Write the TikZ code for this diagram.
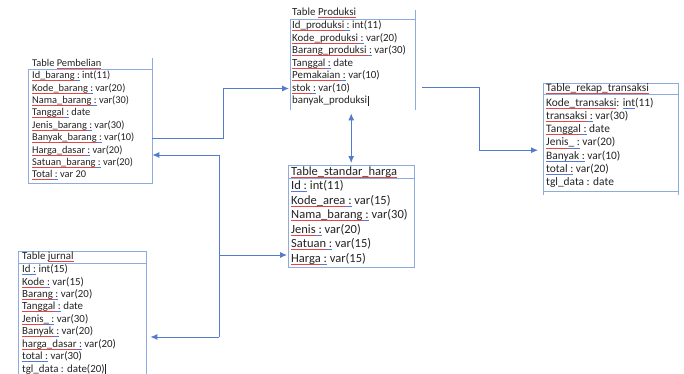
\documentclass[tikz,border=0pt]{standalone}
\usepackage{fontspec}
\setmainfont{Carlito}
\usetikzlibrary{arrows.meta,calc}
\definecolor{boxblue}{RGB}{143,170,220}
\definecolor{connblue}{RGB}{84,124,204}
\definecolor{spellred}{RGB}{228,70,70}
\definecolor{spellblue}{RGB}{90,120,215}
\definecolor{txt}{RGB}{35,35,35}
\newsavebox\ulbox
\newcommand\ulc[2]{\leavevmode\sbox\ulbox{#2}\rlap{\textcolor{#1}{\rule[-2.3pt]{\wd\ulbox}{0.7pt}}}\usebox\ulbox}
\newcommand\rw[1]{\ulc{spellred}{#1}}
\newcommand\bw[1]{\ulc{spellblue}{#1}}
\newcommand\cursorbar{\hspace{0.6pt}\rule[-2.2pt]{0.7pt}{10pt}}
\tikzset{
  border/.style={draw=boxblue, line width=0.8pt},
  conn/.style={draw=connblue, line width=0.9pt},
  tipstyle/.style={-{Latex[length=7pt,width=6pt]}},
  arr/.style={conn, tipstyle},
  frame/.style={anchor=north west, inner sep=0pt, minimum width=#1},
  txtA/.style={anchor=west, inner sep=0pt, text=txt, font=\fontsize{10.4}{12}\selectfont},
  txtB/.style={anchor=west, inner sep=0pt, text=txt, font=\fontsize{10.9}{12}\selectfont},
  txtC/.style={anchor=west, inner sep=0pt, text=txt, font=\fontsize{12.5}{14}\selectfont},
  txtD/.style={anchor=west, inner sep=0pt, text=txt, font=\fontsize{11.4}{13}\selectfont},
}
\begin{document}
\begin{tikzpicture}[x=1pt,y=-1pt]
\useasboundingbox[fill=white] (0,0) rectangle (684,374);

% ---------- frames ----------
\node[frame=124pt, minimum height=114pt] (pembbox) at (28,69) {};
\node[frame=125pt, minimum height=91pt] (prodbox) at (290,19) {};
\node[frame=126pt, minimum height=13pt] (hargat) at (288,165) {};
\node[frame=126pt, minimum height=89pt] (hargabox) at (288,178) {};
\node[frame=135pt, minimum height=11pt] (rekapt) at (543,83) {};
\node[frame=135pt, minimum height=97pt] (rekapbox) at (543,94) {};
\node[frame=128pt, minimum height=12pt] (jurnt) at (18,251) {};
\node[frame=128pt, minimum height=120pt] (jurnbox) at (18,263) {};

\draw[border] (pembbox.north west) rectangle (pembbox.south east);
\draw[border] (pembbox.north east) -- ++(0,-11);
\draw[border] (prodbox.south west) -- (prodbox.north west) -- (prodbox.north east) -- (prodbox.south east);
\draw[border] (prodbox.north east) -- ++(0,-9);
\draw[border] (hargat.north west) rectangle (hargat.south east);
\draw[border] (hargabox.north west) rectangle (hargabox.south east);
\draw[border] (rekapt.north west) rectangle (rekapt.south east);
\draw[border] (rekapbox.north west) rectangle (rekapbox.south east);
\draw[border] (rekapbox.south west) -- ++(0,4);
\draw[border] (rekapbox.south east) -- ++(0,4);
\draw[border] (jurnt.north west) rectangle (jurnt.south east);
\draw[border] (jurnbox.south west) -- (jurnbox.north west) -- (jurnbox.north east) -- (jurnbox.south east);

% ---------- titles ----------
\node[txtA] (pembtitle) at (32,64) {Table \rw{Pembelian}};
\node[txtB] (prodtitle) at (292,13) {Table \rw{Produksi}};
\node[txtC] (hargatitle) at (291,172) {\rw{Table\_standar\_harga}};
\node[txtD] (rekaptitle) at (546,89) {\rw{Table\_rekap\_transaksi}};
\node[txtB] (jurntitle) at (22,257) {Table \rw{jurnal}};

% ---------- rows ----------
\foreach \t [count=\i] in {
  {\rw{Id\_barang}\bw{ :} int(11)},
  {\rw{Kode\_barang}\bw{ :} var(20)},
  {\rw{Nama\_barang}\bw{ :} var(30)},
  {\rw{Tanggal}\bw{ :} date},
  {\rw{Jenis\_barang}\bw{ :} var(30)},
  {\rw{Banyak\_barang}\bw{ :} var(10)},
  {\rw{Harga\_dasar}\bw{ :} var(20)},
  {\rw{Satuan\_barang}\bw{ :} var(20)},
  {\rw{Total}\bw{ :} var 20}}
  \node[txtA] (pemb-\i) at (32,{76+12.4*(\i-1)}) {\t};

\foreach \t [count=\i] in {
  {\rw{Id\_produksi}\bw{ :} int(11)},
  {\rw{Kode\_produksi}\bw{ :} var(20)},
  {\rw{Barang\_produksi}\bw{ :} var(30)},
  {\rw{Tanggal}\bw{ :} date},
  {\rw{Pemakaian}\bw{ :} var(10)},
  {\rw{stok}\bw{ :} var(10)},
  {banyak\_produksi\cursorbar}}
  \node[txtB] (prod-\i) at (292,{26+12.5*(\i-1)}) {\t};

\foreach \t [count=\i] in {
  {\bw{Id :} int(11)},
  {\rw{Kode\_area}\bw{ :} var(15)},
  {\rw{Nama\_barang}\bw{ :} var(30)},
  {\rw{Jenis}\bw{ :} var(20)},
  {\rw{Satuan}\bw{ :} var(15)},
  {\rw{Harga}\bw{ :} var(15)}}
  \node[txtC] (harga-\i) at (291,{186+14.6*(\i-1)}) {\t};

\foreach \t [count=\i] in {
  {\rw{Kode\_transaksi}: \bw{int}(11)},
  {\rw{transaksi}\bw{ :} var(30)},
  {\rw{Tanggal}\bw{ :} date},
  {\rw{Jenis}\bw{\_ :} var(20)},
  {\bw{Banyak :} var(10)},
  {\bw{total :} var(20)},
  {tgl\_data : date}}
  \node[txtD] (rekap-\i) at (546,{103+13.3*(\i-1)}) {\t};

\foreach \t [count=\i] in {
  {\bw{Id :} int(15)},
  {\rw{Kode}\bw{ :} var(15)},
  {\rw{Barang}\bw{ :} var(20)},
  {\rw{Tanggal}\bw{ :} date},
  {\rw{Jenis}\bw{\_ :} var(30)},
  {\rw{Banyak}\bw{ :} var(20)},
  {\rw{harga\_dasar}\bw{ :} var(20)},
  {\bw{total :} var(30)},
  {tgl\_data : date(20)\cursorbar}}
  \node[txtB] (jurn-\i) at (22,{270+12.4*(\i-1)}) {\t};

% ---------- connectors ----------
\coordinate (k1) at (223,0);
\coordinate (k2) at (479,0);
\coordinate (j1) at (219,155);
\coordinate (j2) at (219,255);
\coordinate (j3) at (219,337);
\coordinate (m1) at ($(rekap-4.west)!0.55!(rekap-5.west)$);

\draw[arr, shorten >=1pt] (pemb-6.west -| pembbox.east) -| (k1 |- prod-6.west) -- (prod-6.west -| prodbox.west);
\draw[arr, shorten >=5pt] ($(prod-6.west -| prodbox.east)+(7,-1.5)$) -| (k2 |- m1) -- (m1 -| rekapbox.west);
\draw[conn, {Latex[length=7pt,width=6pt]}-{Latex[length=7pt,width=6pt]}, shorten <=3pt, shorten >=2pt] (prodbox.south -| hargat.north) -- (hargat.north);
\draw[conn] (j1) -- (j3);
\draw[arr] (j1) -- (j1 -| pembbox.east);
\draw[arr, shorten >=1pt] (j2) -- (j2 -| hargabox.west);
\draw[arr, shorten >=4pt] (j3) -- (j3 -| jurnbox.east);
\end{tikzpicture}
\end{document}
